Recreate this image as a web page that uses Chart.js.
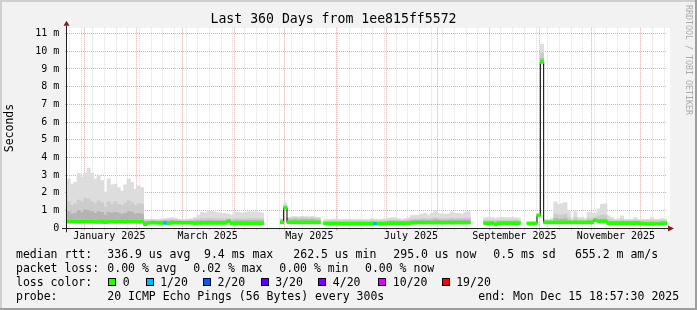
<!DOCTYPE html>
<html><head><meta charset="utf-8">
<script src="https://cdn.jsdelivr.net/npm/chart.js@4/dist/chart.umd.min.js"></script>
<style>
html,body{margin:0;padding:0;background:#f2f2f2;}
#wrap{position:relative;width:697px;height:310px;overflow:hidden;}
canvas{position:absolute;left:0;top:0;}
.t{position:absolute;font-family:'DejaVu Sans Mono',monospace;font-size:11.5px;line-height:14px;white-space:pre;color:#000;}
.box{position:absolute;width:6px;height:6px;border:1px solid #000;top:278px;}
#rrd{position:absolute;left:684px;top:5px;font-family:'DejaVu Sans Mono',monospace;font-size:8.3px;line-height:9px;color:#ababab;writing-mode:vertical-rl;white-space:pre;}
</style></head><body>
<div id="wrap">
<canvas id="c" width="697" height="310"></canvas>
<div id="rrd">RRDTOOL / TOBI OETIKER</div>
<div id="legend"></div>
</div>
<script>
// ---- time axis (days relative to 2025-01-01), 2-day bins ----
const firstBinCenter = -9.4;
const binDays = 2;
const axisMinDay = -10.4;
const axisMaxDay = 349.6;
const monthStartDays = [0,31,59,90,120,151,181,212,243,273,304,334];
const mondayDays = [-9,-2,5,12,19,26,33,40,47,54,61,68,75,82,89,96,103,110,117,124,131,138,145,152,159,166,173,180,187,194,201,208,215,222,229,236,243,250,257,264,271,278,285,292,299,306,313,320,327,334,341,348];
const monthLabelDays = [15,74,135,196,258,319];
const monthLabelNames = ['January 2025','March 2025','May 2025','July 2025','September 2025','November 2025'];
const yTickValues = [0,0.5,1,1.5,2,2.5,3,3.5,4,4.5,5,5.5,6,6.5,7,7.5,8,8.5,9,9.5,10,10.5,11];

// ---- series (milliseconds) ----
const median = [
0.37,0.37,0.37,0.36,0.37,0.37,0.37,0.37,0.36,0.36,
0.35,0.34,0.36,0.37,0.36,0.37,0.37,0.36,0.37,0.37,
0.37,0.36,0.37,0.23,0.30,0.31,0.31,0.30,0.30,0.30,
0.28,0.31,0.31,0.31,0.31,0.31,0.31,0.30,0.29,0.30,
0.30,0.30,0.30,0.30,0.30,0.30,0.30,0.30,0.40,0.27,
0.28,0.28,0.28,0.28,0.28,0.28,0.28,0.28,0.28,null,
null,null,null,null,0.33,1.15,0.34,0.33,0.33,0.33,
0.33,0.33,0.33,0.33,0.33,0.33,null,0.26,0.26,0.26,
0.26,0.26,0.26,0.26,0.26,0.26,0.26,0.26,0.26,0.26,
0.26,0.26,0.26,0.26,0.26,0.26,0.29,0.29,0.29,0.29,
0.29,0.29,0.29,0.32,0.32,0.33,0.32,0.32,0.33,0.32,
0.32,0.33,0.32,0.32,0.33,0.32,0.32,0.33,0.32,0.32,
0.32,null,null,null,null,0.28,0.28,0.28,0.22,0.28,
0.28,0.28,0.28,0.28,0.28,0.28,null,null,0.27,0.27,
0.27,0.72,9.4,0.33,0.33,0.33,0.33,0.33,0.33,0.33,
0.33,0.33,0.33,0.33,0.33,0.33,0.33,0.33,0.45,0.38,
0.38,0.38,0.28,0.28,0.28,0.28,0.28,0.28,0.28,0.28,
0.28,0.28,0.25,0.25,0.24,0.24,0.25,0.24,0.27,0.28];
const smokeMax = [
2.8,2.5,2.6,3.1,2.9,3.1,3.4,3.1,2.8,3.0,
2.7,2.05,2.8,2.45,2.5,2.3,2.1,2.45,2.8,2.6,
2.2,2.4,2.3,0.5,0.5,0.52,0.5,0.5,0.52,0.55,
0.58,0.6,0.56,0.52,0.5,0.5,0.52,0.55,0.62,0.75,
0.92,0.88,0.98,0.95,0.92,0.88,0.84,0.85,0.8,0.75,
0.9,0.92,0.88,0.9,0.95,0.92,0.95,0.9,0.88,null,
null,null,null,null,0.55,1.43,0.62,0.65,0.66,0.65,
0.68,0.66,0.65,0.66,0.64,0.62,null,0.48,0.5,0.5,
0.52,0.5,0.5,0.5,0.52,0.5,0.5,0.52,0.5,0.5,
0.5,0.55,0.52,0.5,0.52,0.55,0.58,0.6,0.6,0.55,
0.52,0.55,0.6,0.72,0.75,0.73,0.8,0.84,0.75,0.84,
1.0,0.84,0.82,0.8,0.82,0.93,0.85,0.84,0.8,0.92,
0.94,null,null,null,null,0.6,0.62,0.6,0.58,0.6,
0.62,0.6,0.6,0.62,0.6,0.58,null,null,0.38,0.38,
0.4,0.85,10.4,0.5,0.5,0.55,1.5,1.35,1.4,1.45,
1.0,0.55,0.95,0.6,0.62,0.55,0.9,0.85,0.85,1.1,
1.35,1.38,0.7,0.6,0.5,0.55,0.7,0.5,0.5,0.52,
0.6,0.5,0.5,0.5,0.5,0.6,0.5,0.5,0.55,0.5];
const smokeHigh = [
1.5,1.3,1.4,1.6,1.5,1.7,1.65,1.5,1.4,1.55,
1.45,1.2,1.5,1.35,1.5,1.35,1.3,1.4,1.55,1.45,
1.3,1.4,1.35,0.45,0.45,0.46,0.45,0.45,0.46,0.47,
0.48,0.5,0.48,0.46,0.45,0.45,0.46,0.47,0.5,0.52,
0.55,0.54,0.56,0.55,0.55,0.54,0.53,0.53,0.55,0.5,
0.54,0.55,0.53,0.54,0.56,0.55,0.56,0.54,0.53,null,
null,null,null,null,0.5,1.3,0.56,0.58,0.6,0.58,
0.6,0.6,0.58,0.6,0.57,0.56,null,0.42,0.42,0.43,
0.43,0.42,0.42,0.42,0.43,0.42,0.42,0.43,0.42,0.42,
0.42,0.45,0.43,0.42,0.43,0.45,0.47,0.48,0.48,0.46,
0.45,0.46,0.48,0.52,0.53,0.52,0.55,0.56,0.53,0.56,
0.6,0.56,0.55,0.55,0.55,0.58,0.56,0.56,0.55,0.58,
0.58,null,null,null,null,0.46,0.47,0.46,0.44,0.46,
0.47,0.46,0.46,0.47,0.46,0.45,null,null,0.32,0.32,
0.33,0.8,9.9,0.45,0.45,0.46,0.8,0.75,0.75,0.8,
0.6,0.46,0.6,0.48,0.48,0.46,0.58,0.55,0.6,0.7,
0.75,0.75,0.5,0.48,0.45,0.45,0.5,0.45,0.45,0.45,
0.48,0.45,0.45,0.44,0.44,0.47,0.44,0.44,0.45,0.44];
const smokeLow = [
0.95,0.8,0.85,1.0,0.9,1.05,1.0,0.95,0.85,0.95,
0.9,0.75,0.9,0.85,0.9,0.85,0.8,0.85,0.95,0.9,
0.8,0.85,0.8,0.38,0.4,0.41,0.4,0.4,0.41,0.42,
0.42,0.43,0.42,0.41,0.4,0.4,0.41,0.41,0.42,0.43,
0.44,0.44,0.45,0.44,0.44,0.44,0.43,0.43,0.48,0.4,
0.43,0.44,0.43,0.43,0.45,0.44,0.45,0.44,0.43,null,
null,null,null,null,0.44,1.2,0.48,0.48,0.5,0.48,
0.5,0.5,0.49,0.5,0.48,0.47,null,0.36,0.36,0.37,
0.37,0.36,0.36,0.36,0.37,0.36,0.36,0.37,0.36,0.36,
0.36,0.38,0.37,0.36,0.37,0.38,0.4,0.41,0.41,0.4,
0.39,0.4,0.41,0.44,0.45,0.44,0.46,0.47,0.45,0.47,
0.5,0.47,0.46,0.46,0.46,0.48,0.47,0.47,0.46,0.48,
0.48,null,null,null,null,0.39,0.4,0.39,0.35,0.39,
0.4,0.39,0.39,0.4,0.39,0.38,null,null,0.3,0.3,
0.3,0.76,9.6,0.4,0.4,0.4,0.55,0.52,0.52,0.55,
0.45,0.4,0.45,0.41,0.41,0.4,0.45,0.44,0.52,0.5,
0.52,0.52,0.4,0.4,0.38,0.38,0.4,0.38,0.38,0.38,
0.39,0.38,0.36,0.35,0.35,0.37,0.35,0.35,0.37,0.37];
const lossCount = [
0,0,0,0,0,0,0,0,0,0, 0,0,0,0,0,0,0,0,0,0,
0,0,0,0,0,0,0,0,0,1, 0,0,0,0,0,0,0,0,0,0,
0,0,0,0,0,0,0,0,0,0, 0,0,0,0,0,0,0,0,0,0,
0,0,0,0,0,0,0,0,0,0, 0,0,0,0,0,0,0,0,0,0,
0,0,0,0,0,0,0,0,0,0, 0,0,1,0,0,0,0,0,0,0,
0,0,0,0,0,0,0,0,0,0, 0,0,0,0,0,0,0,0,0,0,
0,0,0,0,0,0,0,0,0,0, 0,0,0,0,0,0,0,0,0,0,
0,0,0,0,0,0,0,0,0,0, 0,0,0,0,0,0,0,0,0,0,
0,0,0,0,0,0,0,0,0,0, 0,0,0,0,0,0,0,0,0,0];

// ---- legend content ----
const lossLevels = [0,1,2,3,4,10,19];
const lossLabels = ['0','1/20','2/20','3/20','4/20','10/20','19/20'];
const lossColors = ['#26ff00','#00b8ff','#0059ff','#5e00ff','#7e00ff','#dd00ff','#ff0000'];
const rttStats = ['336.9 us avg','9.4 ms max','262.5 us min','295.0 us now','0.5 ms sd','655.2 m am/s'];
const lossStats = ['0.00 % avg','0.02 % max','0.00 % min','0.00 % now'];

// layout (pixels)
const rttX = [107.3,204,293.3,393.3,493.3,575];
const lossX = [107.3,193.3,279.3,365];
const boxX = [108.3,145.7,203,260.7,318.3,378.3,441.7];
const plotWidthPx = 600;

const leg = document.getElementById('legend');
function addText(txt, x, y){ const d=document.createElement('div'); d.className='t'; d.textContent=txt; d.style.left=x+'px'; d.style.top=y+'px'; leg.appendChild(d); }
addText('median rtt:',16,247); rttStats.forEach((s,i)=>addText(s,rttX[i],247));
addText('packet loss:',16,261.3); lossStats.forEach((s,i)=>addText(s,lossX[i],261.3));
addText('loss color:',16,275.3);
lossLabels.forEach((s,i)=>{ const b=document.createElement('div'); b.className='box'; b.style.left=boxX[i]+'px'; b.style.background=lossColors[i]; leg.appendChild(b); addText(s,boxX[i]+14.5,275.3); });
addText('probe:',16,288.7);
addText('20 ICMP Echo Pings (56 Bytes) every 300s',107.3,288.7);
addText('end: Mon Dec 15 18:57:30 2025',478.3,288.7);

function lossColor(n){ let k=0; lossLevels.forEach((l,j)=>{ if(n>=l) k=j; }); return lossColors[k]; }
const binCenters = median.map((_, i) => firstBinCenter + i*binDays);
function floatBars(top){ return binCenters.map((x,i)=>({x, y:(median[i]==null||top[i]==null)?null:[median[i], top[i]]})); }
const medHalf = 0.08;
const greenBars = binCenters.map((x,i)=>({x, y: median[i]==null?null:[median[i]-medHalf, median[i]+medHalf]}));
const binPx = binDays/(axisMaxDay-axisMinDay)*plotWidthPx;

const FONT = 'DejaVu Sans Mono';
const MGRID = 'rgba(222,79,79,0.5)';
const GRID = 'rgba(143,143,143,0.32)';

const framePlugin = {
  id:'frame',
  beforeDraw(chart){
    const {ctx, width, height, chartArea:a} = chart;
    ctx.save();
    ctx.fillStyle='#f2f2f2'; ctx.fillRect(0,0,width,height);
    ctx.fillStyle='#cfcfcf'; ctx.fillRect(0,0,width,2); ctx.fillRect(0,0,2,height);
    ctx.fillStyle='#9e9e9e'; ctx.fillRect(0,height-2,width,2); ctx.fillRect(width-2,0,2,height);
    ctx.fillStyle='#ffffff'; ctx.fillRect(a.left, a.top, a.right-a.left+3, a.bottom-a.top);
    ctx.restore();
  },
  afterDraw(chart){
    const {ctx, chartArea:a} = chart;
    const yb = Math.round(a.bottom)+0.5, xl = Math.round(a.left)-0.5;
    ctx.save();
    ctx.strokeStyle='#1f1f1f'; ctx.lineWidth=1;
    ctx.beginPath(); ctx.moveTo(a.left-5, yb); ctx.lineTo(a.right+2, yb); ctx.stroke();
    ctx.beginPath(); ctx.moveTo(xl, a.bottom+4); ctx.lineTo(xl, a.top-2); ctx.stroke();
    ctx.fillStyle='#7f1f1f';
    ctx.beginPath(); ctx.moveTo(a.right+1, yb-3); ctx.lineTo(a.right+7, yb); ctx.lineTo(a.right+1, yb+3); ctx.closePath(); ctx.fill();
    ctx.beginPath(); ctx.moveTo(xl-3, a.top-2); ctx.lineTo(xl+3, a.top-2); ctx.lineTo(xl, a.top-7); ctx.closePath(); ctx.fill();
    ctx.restore();
  }
};

const barCommon = {type:'bar', grouped:false, barThickness:binPx+0.05, borderWidth:0};
new Chart(document.getElementById('c'), {
  type:'bar',
  data:{datasets:[
    Object.assign({}, barCommon, {data:floatBars(smokeMax), backgroundColor:'#dddddd', order:6}),
    Object.assign({}, barCommon, {data:floatBars(smokeHigh), backgroundColor:'#cccccc', order:5}),
    Object.assign({}, barCommon, {data:floatBars(smokeLow), backgroundColor:'#b4b4b4', order:4}),
    {type:'line', data:binCenters.map((x,i)=>({x, y:median[i]})), borderColor:'#000', borderWidth:1, pointRadius:0, stepped:'middle', spanGaps:false, order:3},
    Object.assign({}, barCommon, {data:greenBars, backgroundColor:lossCount.map(lossColor), order:2})
  ]},
  options:{
    responsive:false, animation:false, devicePixelRatio:1,
    layout:{padding:{left:0,right:30,top:0,bottom:0}},
    plugins:{
      legend:{display:false}, tooltip:{enabled:false},
      title:{display:true, text:'Last 360 Days from 1ee815ff5572', color:'#000',
        font:{family:FONT, size:13.2, weight:'normal'}, padding:{top:11.4,bottom:0.5}}
    },
    scales:{
      x:{type:'linear', min:axisMinDay, max:axisMaxDay, offset:false, z:1,
        afterBuildTicks:s=>{ s.ticks = mondayDays.concat(monthStartDays, monthLabelDays).filter((v,i,a)=>a.indexOf(v)===i).sort((p,q)=>p-q).map(v=>({value:v})); },
        afterFit:s=>{ s.height = 81.7; },
        grid:{offset:false, drawTicks:true, tickLength:2, lineWidth:1,
          color:c=>{ const v=c.tick?c.tick.value:null; if(monthStartDays.includes(v)) return MGRID; if(mondayDays.includes(v)) return GRID; return 'rgba(0,0,0,0)'; }},
        border:{display:false, dash:[1,1]},
        ticks:{autoSkip:false, maxRotation:0, minRotation:0, padding:0.4, color:'#000', font:{family:FONT, size:10},
          callback:v=>{ const k=monthLabelDays.indexOf(v); return k>=0?monthLabelNames[k]:''; }}
      },
      y:{type:'linear', min:0, max:11.33, z:1,
        afterBuildTicks:s=>{ s.ticks = yTickValues.map(v=>({value:v})); },
        afterFit:s=>{ s.width = 67; },
        grid:{drawTicks:true, tickLength:2, lineWidth:1,
          color:c=>{ const v=c.tick?c.tick.value:0; return Number.isInteger(v)?MGRID:GRID; }},
        border:{display:false, dash:[1,1]},
        ticks:{padding:5.7, color:'#000', font:{family:FONT, size:10},
          callback:v=> Number.isInteger(v) ? (v===0?'0':v+' m') : ''},
        title:{display:true, text:'Seconds', color:'#000', font:{family:FONT, size:11.5}, padding:{top:3.6,bottom:0}}
      }
    }
  },
  plugins:[framePlugin]
});
</script>
</body></html>
